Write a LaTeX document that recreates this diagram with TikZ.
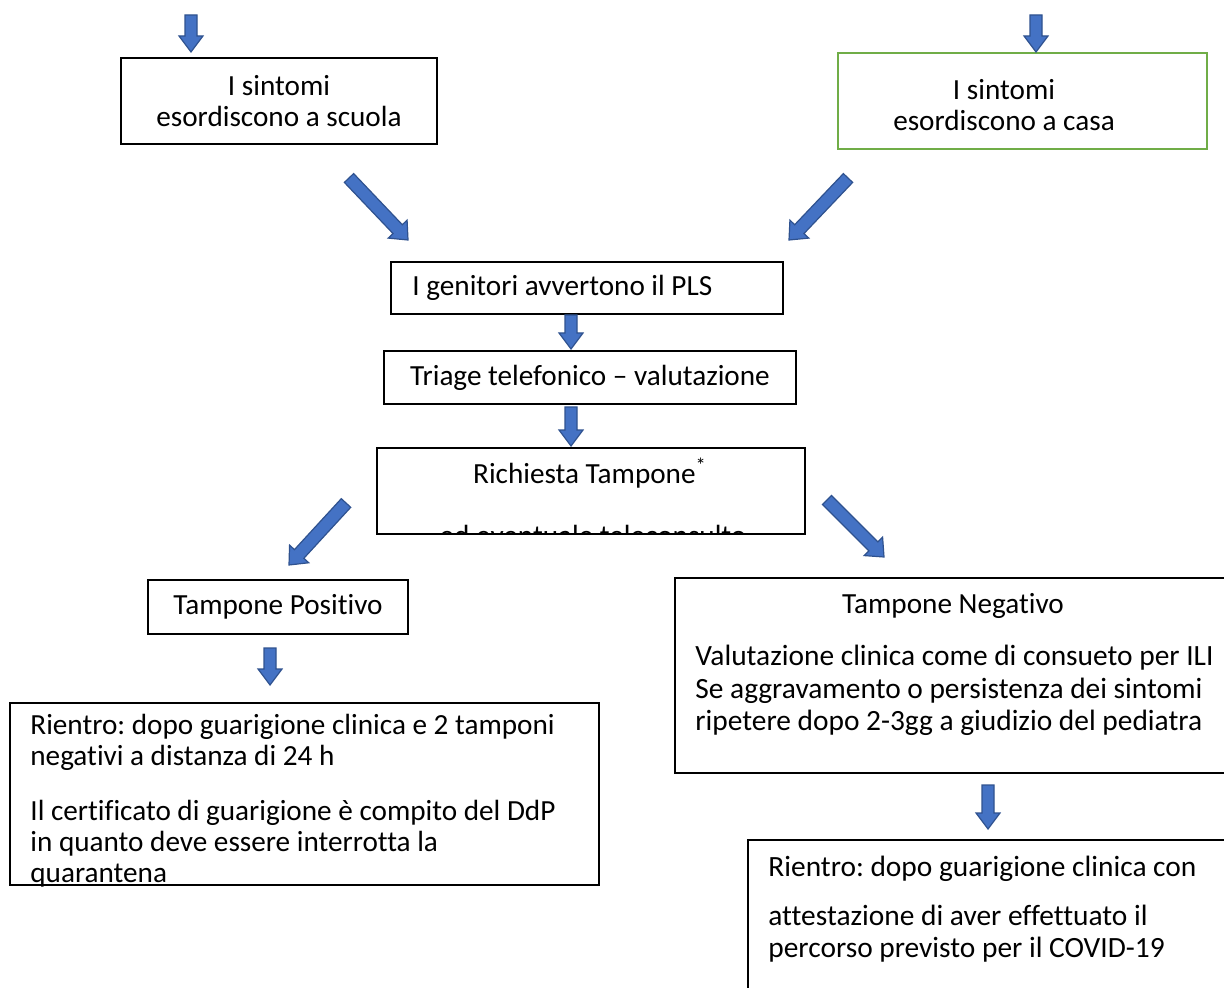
\documentclass[tikz,border=0pt]{standalone}
\usepackage{fontspec}
\setmainfont{Carlito}[Ligatures=CommonOff]
\frenchspacing
\usetikzlibrary{calc,positioning}
\definecolor{arrowfill}{HTML}{4472C4}
\definecolor{arrowline}{HTML}{2F528F}
\definecolor{homegreen}{HTML}{70AD47}
\tikzset{
  every node/.style={font=\fontsize{14.6}{15.5}\selectfont,text=black},
  box/.style={draw=black,line width=1pt,inner sep=0pt,align=center},
  homebox/.style={box,draw=homegreen},
  bodytext/.style={align=left,anchor=north west,inner sep=0pt},
  blockarr/.style={fill=arrowfill,draw=arrowline,line width=0.6pt,line join=miter},
}
% block arrow from #1 to #2: shaft half width, head half width, head length
\newcommand{\blockarrow}[5]{%
  \coordinate (ba-h) at ($(#2)!#5!(#1)$);
  \path[blockarr] ($(#1)!#3!90:(#2)$) -- ($(ba-h)!#3!-90:(#1)$) -- ($(ba-h)!#4!-90:(#1)$)
    -- (#2) -- ($(ba-h)!#4!90:(#1)$) -- ($(ba-h)!#3!90:(#1)$) -- ($(#1)!#3!-90:(#2)$) -- cycle;}

\begin{document}
\begin{tikzpicture}[x=0.5pt,y=-0.5pt]
\clip (0,0) rectangle (1224,988);

\node[box,minimum width=158pt,minimum height=43pt] (school) at (279,101) {I sintomi\\esordiscono a scuola};
\node[homebox,minimum width=184.5pt,minimum height=48pt] (home) at (1022.5,101) {};
\node[align=center] (hometext) at (1004,105) {I sintomi\\esordiscono a casa};

\node[box,minimum width=196pt,minimum height=26pt] (parents) at (587,288) {};
\node[anchor=west,inner sep=0pt] (parentstext) at (412,288) {I genitori avvertono il PLS};
\node[box,minimum width=206pt,minimum height=26.5pt] (triage) at (590,377.5) {Triage telefonico – valutazione};
\node[box,minimum width=214pt,minimum height=43pt] (request) at (591,491) {};
\node (requesttitle) at (590,473) {Richiesta Tampone\textsuperscript{*}};
\begin{scope}
  \clip (request.north west) rectangle ([yshift=1pt]request.south east);
  \node[anchor=base] (requestnote) at (593,545) {ed eventuale teleconsulto};
\end{scope}

\node[box,minimum width=130pt,minimum height=27pt] (positive) at (278,607) {Tampone Positivo};
\node[box,minimum width=294.5pt,minimum height=91pt] (posreturn) at (304.5,794) {};
\node[bodytext] (posreturntext) at (30,714) {Rientro: dopo guarigione clinica e 2 tamponi\\negativi a distanza di 24 h\\[12pt]Il certificato di guarigione è compito del DdP\\in quanto deve essere interrotta la\\quarantena};

\node[box,minimum width=280pt,minimum height=97.5pt] (negative) at (955,675.5) {};
\node (negativetitle) at (953,606) {Tampone Negativo};
\node[bodytext,font=\fontsize{14.7}{16.25}\selectfont] (negativetext) at (695,645) {Valutazione clinica come di consueto per ILI\\Se aggravamento o persistenza dei sintomi\\ripetere dopo 2-3gg a giudizio del pediatra};

\node[box,minimum width=250pt,minimum height=85pt] (negreturn) at (998,925) {};
\node[bodytext,font=\fontsize{14.7}{16}\selectfont] (negreturntext) at (768,856) {Rientro: dopo guarigione clinica con\\[8.5pt]attestazione di aver effettuato il\\percorso previsto per il COVID-19};

% arrows
\coordinate (a1s) at (191,15);  \coordinate (a1e) at (191,52);
\coordinate (a2s) at (1036,15); \coordinate (a2e) at (1036,52);
\coordinate (a3s) at (349,178); \coordinate (a3e) at (408,240);
\coordinate (a4s) at (848,178); \coordinate (a4e) at (789,240);
\coordinate (a5s) at (571,315); \coordinate (a5e) at (571,349);
\coordinate (a6s) at (571,407); \coordinate (a6e) at (571,446);
\coordinate (a7s) at (346,503); \coordinate (a7e) at (289,565);
\coordinate (a8s) at (827,500); \coordinate (a8e) at (884,557);
\coordinate (a9s) at (270,648); \coordinate (a9e) at (270,685);
\coordinate (a10s) at (988,785); \coordinate (a10e) at (988,829);

\blockarrow{a1s}{a1e}{3pt}{6pt}{8pt}
\blockarrow{a2s}{a2e}{3pt}{6pt}{8pt}
\blockarrow{a3s}{a3e}{3.2pt}{6.5pt}{7.5pt}
\blockarrow{a4s}{a4e}{3.2pt}{6.5pt}{7.5pt}
\blockarrow{a5s}{a5e}{3pt}{6pt}{8pt}
\blockarrow{a6s}{a6e}{3pt}{6pt}{8pt}
\blockarrow{a7s}{a7e}{3.2pt}{6.5pt}{7.5pt}
\blockarrow{a8s}{a8e}{3.2pt}{6.5pt}{7.5pt}
\blockarrow{a9s}{a9e}{3pt}{6pt}{8pt}
\blockarrow{a10s}{a10e}{3pt}{6pt}{8pt}

\end{tikzpicture}
\end{document}
